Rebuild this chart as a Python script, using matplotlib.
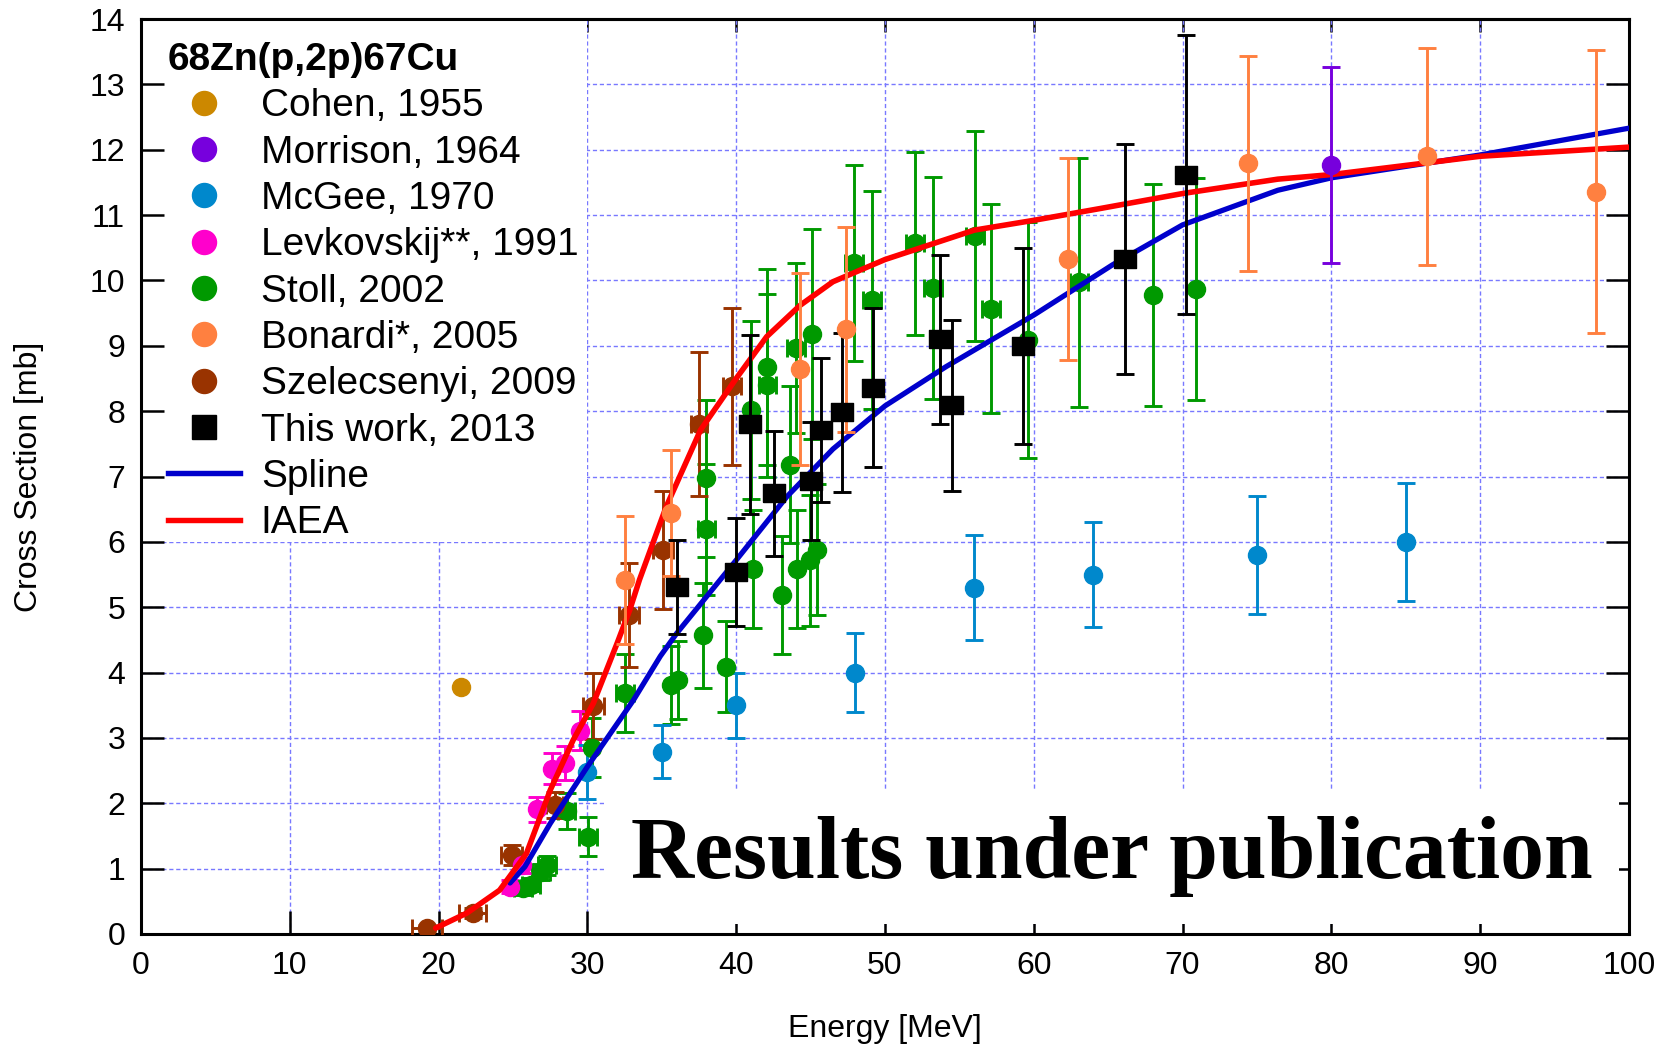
import matplotlib
matplotlib.use("Agg")
import matplotlib.pyplot as plt
import numpy as np
from matplotlib.lines import Line2D
from matplotlib.patches import Rectangle

plt.rcParams['font.family'] = ['Liberation Sans', 'DejaVu Sans']

# ---------------- data: 68Zn(p,2p)67Cu cross sections ----------------
cohen_e = [21.5]
cohen_xs = [3.78]

morrison_e = [80.0]
morrison_xs = [11.77]
morrison_err = [1.5]

mcgee_e = [30.0, 35.0, 40.0, 48.0, 56.0, 64.0, 75.0, 85.0]
mcgee_xs = [2.48, 2.79, 3.5, 4.0, 5.3, 5.5, 5.8, 6.0]
mcgee_err = [0.41, 0.4, 0.5, 0.6, 0.8, 0.8, 0.9, 0.9]

levk_e = [24.8, 25.6, 26.6, 27.6, 28.5, 29.5]
levk_xs = [0.72, 1.05, 1.91, 2.53, 2.62, 3.11]
levk_err = [0.1, 0.12, 0.19, 0.24, 0.26, 0.3]

stoll_e = [25.7, 26.2, 26.9, 27.3, 28.6, 30.06, 30.3, 32.5, 35.6, 36.1,
           37.8, 38.0, 38.0, 39.3, 41.0, 41.1, 42.05, 42.1, 43.1, 43.6,
           44.0, 44.1, 44.95, 45.1, 45.4, 47.9, 49.1, 52.0, 53.2, 56.05,
           57.1, 59.6, 63.05, 68.0, 70.9]
stoll_xs = [0.70, 0.75, 0.95, 1.05, 1.88, 1.49, 2.85, 3.69, 3.81, 3.89,
            4.57, 6.19, 6.97, 4.09, 8.02, 5.58, 8.68, 8.40, 5.19, 7.18,
            8.97, 5.58, 5.72, 9.18, 5.88, 10.27, 9.70, 10.57, 9.88, 10.68,
            9.57, 9.09, 9.97, 9.78, 9.87]
stoll_err = [0.1, 0.1, 0.12, 0.15, 0.27, 0.3, 0.45, 0.6, 0.6, 0.6,
             0.8, 1.0, 1.2, 0.7, 1.36, 0.9, 1.5, 1.4, 0.9, 1.2,
             1.3, 0.9, 1.0, 1.6, 1.0, 1.5, 1.67, 1.4, 1.7, 1.6,
             1.6, 1.8, 1.9, 1.7, 1.7]
stoll_de = [0.6, 0.6, 0.6, 0.6, 0.6, 0.6, 0.0, 0.6, 0.0, 0.0,
            0.0, 0.6, 0.0, 0.0, 0.0, 0.0, 0.0, 0.6, 0.0, 0.0,
            0.6, 0.0, 0.0, 0.0, 0.0, 0.6, 0.6, 0.6, 0.6, 0.6,
            0.6, 0.0, 0.6, 0.0, 0.0]

bonardi_e = [32.5, 35.6, 44.3, 47.4, 62.3, 74.4, 86.4, 97.8]
bonardi_xs = [5.41, 6.44, 8.65, 9.25, 10.33, 11.79, 11.90, 11.36]
bonardi_err = [0.98, 0.97, 1.47, 1.57, 1.55, 1.65, 1.66, 2.16]

szel_e = [19.2, 22.3, 24.9, 27.8, 30.4, 32.8, 35.1, 37.5, 39.7]
szel_xs = [0.09, 0.32, 1.21, 1.97, 3.49, 4.88, 5.88, 7.8, 8.38]
szel_err = [0.05, 0.08, 0.15, 0.2, 0.5, 0.8, 0.9, 1.1, 1.2]
szel_de = [1.0, 0.9, 0.7, 0.55, 0.72, 0.65, 0.67, 0.56, 0.6]

work_e = [36.0, 40.0, 40.9, 42.55, 45.0, 45.7, 47.1, 49.2, 53.7, 54.5,
          59.3, 66.1, 70.2]
work_xs = [5.31, 5.54, 7.80, 6.74, 6.93, 7.71, 7.98, 8.36, 9.10, 8.09,
           9.0, 10.33, 11.62]
work_err = [0.72, 0.82, 1.37, 0.96, 0.9, 1.1, 1.22, 1.22, 1.29, 1.31,
            1.5, 1.76, 2.13]

spline_e = [24.8, 25.8, 27.5, 30.0, 33.1, 34.9, 36.0, 40.0, 43.4, 46.5,
            50.0, 54.1, 60.0, 65.3, 70.0, 76.4, 80.0, 90.0, 100.0]
spline_xs = [0.78, 1.03, 1.69, 2.56, 3.58, 4.25, 4.60, 5.72, 6.69, 7.42,
             8.08, 8.68, 9.47, 10.24, 10.85, 11.38, 11.57, 11.92, 12.33]

iaea_e = [19.8, 21.9, 24.1, 25.9, 27.5, 29.05, 30.4, 32.0, 32.85, 33.5,
          35.3, 37.6, 40.0, 42.05, 44.3, 46.5, 50.0, 56.0, 60.0, 64.45,
          70.0, 76.4, 80.0, 90.0, 100.0]
iaea_xs = [0.09, 0.32, 0.67, 1.23, 2.20, 2.97, 3.53, 4.45, 4.96, 5.42,
           6.54, 7.71, 8.50, 9.14, 9.62, 9.98, 10.32, 10.77, 10.92, 11.10,
           11.33, 11.55, 11.62, 11.90, 12.04]

x_ticks = list(range(0, 101, 10))
y_ticks = list(range(0, 15))

labels = ["Cohen, 1955", "Morrison, 1964", "McGee, 1970", "Levkovskij**, 1991",
          "Stoll, 2002", "Bonardi*, 2005", "Szelecsenyi, 2009", "This work, 2013",
          "Spline", "IAEA"]

# ---------------- styling ----------------
c_cohen = '#cc8800'
c_morrison = '#7700dd'
c_mcgee = '#0088cc'
c_levk = '#ff00cc'
c_stoll = '#009900'
c_bonardi = '#ff8040'
c_szel = '#993300'
c_work = '#000000'
c_spline = '#0000cc'
c_iaea = '#ff0000'
grid_color = '#7878ff'

MS = 13          # circle diameter (pt)
ELW = 2.1
CAP = 6.5

fig = plt.figure(figsize=(16.61, 10.46), dpi=100)
ax = fig.add_axes([0.0849, 0.1071, 0.8958, 0.8747])
ax.set_xlim(0, 100)
ax.set_ylim(0, 14)

# dashed grid under everything
for v in x_ticks[1:-1]:
    ax.axvline(v, color=grid_color, lw=1.0, ls=(0, (3, 2)), zorder=1)
for v in y_ticks[1:-1]:
    ax.axhline(v, color=grid_color, lw=1.0, ls=(0, (3, 2)), zorder=1)

# white area behind the legend
ax.add_patch(Rectangle((0, 6), 30, 8, facecolor='white', edgecolor='none', zorder=1.5))


def points(e, xs, err, color, marker='o', ms=MS, z=3):
    ax.errorbar(e, xs, yerr=err, fmt='', marker=marker, ls='none', color=color,
                mec=color, mfc=color, ms=ms, elinewidth=ELW, capsize=CAP,
                capthick=ELW, zorder=z)


def xbars(e, xs, de, color, z=3):
    e = np.asarray(e); xs = np.asarray(xs); de = np.asarray(de)
    m = de > 0
    ax.errorbar(e[m], xs[m], xerr=de[m], fmt='none', ecolor=color,
                elinewidth=ELW, capsize=CAP, capthick=ELW, zorder=z)


points(stoll_e, stoll_xs, stoll_err, c_stoll)
xbars(stoll_e, stoll_xs, stoll_de, c_stoll)
points(szel_e, szel_xs, szel_err, c_szel)
xbars(szel_e, szel_xs, szel_de, c_szel)
points(levk_e, levk_xs, levk_err, c_levk)
points(mcgee_e, mcgee_xs, mcgee_err, c_mcgee)
ax.plot(cohen_e, cohen_xs, 'o', color=c_cohen, ms=MS, zorder=3)

ax.plot(spline_e, spline_xs, color=c_spline, lw=3.8, zorder=4,
        solid_capstyle='round', solid_joinstyle='round')
ax.plot(iaea_e, iaea_xs, color=c_iaea, lw=4.0, zorder=4,
        solid_capstyle='round', solid_joinstyle='round')

points(bonardi_e, bonardi_xs, bonardi_err, c_bonardi, z=5)
points(morrison_e, morrison_xs, morrison_err, c_morrison, z=5)
rect_marker = [(-11, -9), (11, -9), (11, 9), (-11, 9), (-11, -9)]
points(work_e, work_xs, work_err, c_work, marker=rect_marker, ms=15.8, z=5)

# watermark text
ax.text(32.9, 0.85, 'Results under publication', family=['Liberation Serif', 'DejaVu Serif'],
        weight='bold', size=63, ha='left', va='baseline', zorder=2.2,
        bbox=dict(boxstyle='square,pad=0.3', fc='white', ec='none'))

# legend
LMS = 17.3
handles = [Line2D([], [], ls='none', marker='o', ms=LMS, color=c) for c in
           [c_cohen, c_morrison, c_mcgee, c_levk, c_stoll, c_bonardi, c_szel]]
handles.append(Line2D([], [], ls='none', marker='s', ms=LMS, color=c_work))
handles.append(Line2D([], [], color=c_spline, lw=3.9))
handles.append(Line2D([], [], color=c_iaea, lw=3.9))
leg = ax.legend(handles, labels, title='68Zn(p,2p)67Cu',
                title_fontproperties={'weight': 'bold', 'size': 28},
                fontsize=28, loc='upper left', bbox_to_anchor=(0.005, 0.996),
                frameon=False, handlelength=1.85, handletextpad=0.54,
                labelspacing=0.265, borderpad=0.5, borderaxespad=0, alignment='left')
leg.set_zorder(2)

# axes, ticks, labels
ax.set_xticks(x_ticks)
ax.set_yticks(y_ticks)
ax.tick_params(direction='in', length=16.5, width=1.8, labelsize=23,
               top=False, right=True, pad=12.5)
ax.tick_params(axis='y', pad=11.5)
for s in ax.spines.values():
    s.set_linewidth(2.2)
sec = ax.secondary_xaxis('top')
sec.set_xticks(x_ticks)
sec.set_xticklabels([])
sec.tick_params(direction='in', length=9.4, width=1.8)
sec.spines['top'].set_linewidth(2.2)

ax.set_xlabel('Energy [MeV]', fontsize=23)
ax.set_ylabel('Cross Section [mb]', fontsize=23)
ax.xaxis.set_label_coords(0.5, -0.088)
ax.yaxis.set_label_coords(-0.065, 0.5)

fig.savefig('out.png', dpi=100)
